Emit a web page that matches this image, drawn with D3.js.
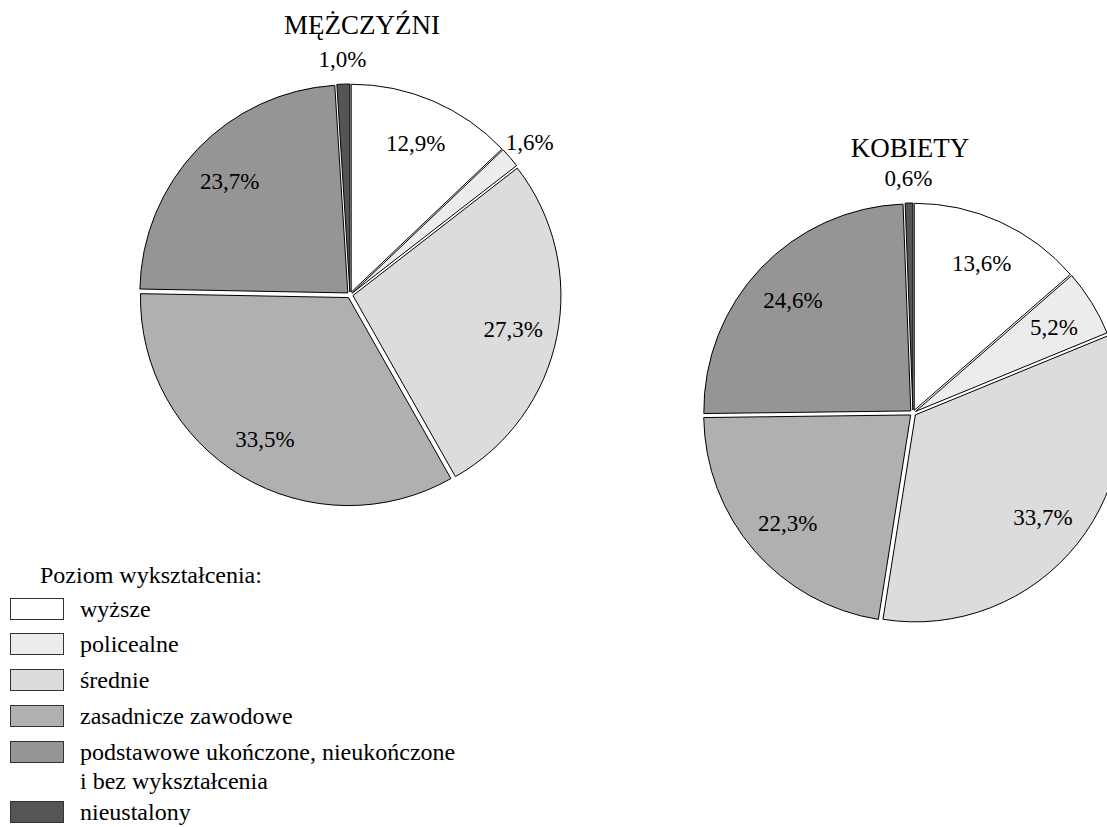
<!DOCTYPE html>
<html>
<head>
<meta charset="utf-8">
<script src="https://cdn.jsdelivr.net/npm/d3@7"></script>
<style>
  html, body { margin: 0; padding: 0; background: #fff; }
  svg { display: block; font-family: "Liberation Serif", "Times New Roman", serif; }
</style>
</head>
<body>
<script>
// ============ Data ============
const categories = ['wyższe', 'policealne', 'średnie', 'zasadnicze zawodowe',
  'podstawowe ukończone, nieukończone|i bez wykształcenia', 'nieustalony'];
const menValues   = [12.9, 1.6, 27.3, 33.5, 23.7, 1.0];
const womenValues = [13.6, 5.2, 33.7, 22.3, 24.6, 0.6];
const fills = ['#ffffff', '#ececec', '#dcdcdc', '#b0b0b0', '#959595', '#555555'];
const legendTitle = 'Poziom wykształcenia:';

const W = 1107, H = 827;
const svg = d3.select('body').append('svg')
  .attr('width', W).attr('height', H);

const fmt = v => d3.format('.1f')(v).replace('.', ',') + '%';

// ── one pie ──
function drawPie(values, title, cx, cy, r, titleX, titleY) {
  const g = svg.append('g').attr('transform', `translate(${cx},${cy})`);
  const pie = d3.pie().sort(null).value(d => d)(values);
  const arc = d3.arc().innerRadius(0).outerRadius(r);
  const shift = 3; // small explode so the slices show white gaps

  g.selectAll('path.slice')
    .data(pie).enter().append('path')
    .attr('class', 'slice')
    .attr('d', arc)
    .attr('fill', (d, i) => fills[i])
    .attr('stroke', '#000')
    .attr('stroke-width', 1)
    .attr('transform', d => {
      const a = (d.startAngle + d.endAngle) / 2;
      return `translate(${Math.sin(a) * shift},${-Math.cos(a) * shift})`;
    });

  // labels: inside for big slices, just outside for tiny ones
  const inner = d3.arc().innerRadius(r * 0.8).outerRadius(r * 0.8);
  const outer = d3.arc().innerRadius(r * 1.14).outerRadius(r * 1.14);
  g.selectAll('text.lbl')
    .data(pie).enter().append('text')
    .attr('class', 'lbl')
    .attr('transform', d => `translate(${d.value < 2 ? outer.centroid(d) : inner.centroid(d)})`)
    .attr('dy', '0.4em')
    .attr('text-anchor', 'middle')
    .attr('font-size', 23)
    .text(d => fmt(d.value));

  svg.append('text')
    .attr('x', titleX).attr('y', titleY)
    .attr('text-anchor', 'middle')
    .attr('font-size', 27)
    .text(title);
}

drawPie(menValues, 'MĘŻCZYŹNI', 350, 295, 208, 362, 34);
drawPie(womenValues, 'KOBIETY', 913, 413, 207, 910, 157);

// ── legend ──
const legend = svg.append('g');
legend.append('text')
  .attr('x', 40).attr('y', 583)
  .attr('font-size', 24)
  .text(legendTitle);

const rowTops = [598, 633, 669, 705, 741, 801];
categories.forEach((c, i) => {
  legend.append('rect')
    .attr('x', 10.5).attr('y', rowTops[i] + 0.5)
    .attr('width', 53).attr('height', 21)
    .attr('fill', fills[i])
    .attr('stroke', '#333').attr('stroke-width', 1);
  const t = legend.append('text')
    .attr('x', 80).attr('y', rowTops[i] + 19)
    .attr('font-size', 24);
  c.split('|').forEach((line, j) => {
    t.append('tspan').attr('x', 80).attr('dy', j ? 29 : 0).text(line);
  });
});
</script>
</body>
</html>
